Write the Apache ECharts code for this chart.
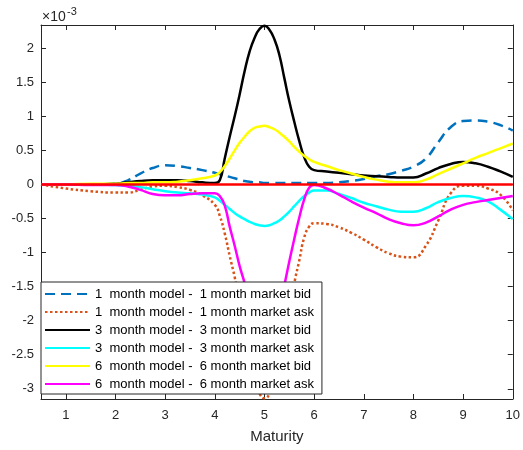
<!DOCTYPE html>
<html>
<head>
<meta charset="utf-8">
<script src="https://cdn.jsdelivr.net/npm/echarts@6/dist/echarts.min.js"></script>
<style>
  html, body { margin: 0; padding: 0; background: #fff; }
  #chart { width: 523px; height: 450px; }
</style>
</head>
<body>
<div id="chart"></div>
<script>
// Maturity grid (years)
const maturity = [0.5, 1, 1.5, 2, 2.25, 2.5, 2.75, 3, 3.25, 3.5, 3.75, 4,
  4.1, 4.2, 4.3, 4.4, 4.5, 4.6, 4.7, 4.8, 4.9, 5, 5.1, 5.2, 5.3, 5.4, 5.5,
  5.6, 5.7, 5.8, 5.9, 6, 6.25, 6.5, 6.75, 7, 7.25, 7.5, 7.75, 8, 8.25, 8.5,
  8.75, 9, 9.25, 9.5, 9.75, 10];

// Model minus market differences, in units of 1e-3
const bid1m = [0, 0, 0, 0.01, 0.06, 0.16, 0.24, 0.28, 0.27, 0.24, 0.21, 0.17,
  0.15, 0.13, 0.11, 0.09, 0.07, 0.05, 0.04, 0.03, 0.03, 0.02, 0.02, 0.02, 0.02, 0.02, 0.02,
  0.02, 0.02, 0.02, 0.02, 0.02, 0.02, 0.03, 0.05, 0.08, 0.12, 0.15, 0.20, 0.26, 0.38, 0.62,
  0.84, 0.93, 0.94, 0.92, 0.87, 0.79];
const ask1m = [0, -0.06, -0.10, -0.12, -0.12, -0.08, -0.03, -0.02, -0.04, -0.08, -0.16, -0.30,
  -0.46, -0.72, -1.05, -1.36, -1.72, -2.10, -2.50, -2.85, -3.07, -3.14, -3.08, -2.90, -2.60, -2.25, -1.85,
  -1.45, -1.12, -0.78, -0.62, -0.57, -0.58, -0.63, -0.71, -0.81, -0.92, -1.01, -1.06, -1.07, -0.90, -0.53,
  -0.13, -0.02, -0.02, -0.06, -0.15, -0.38];
const bid3m = [0, 0, 0, 0.01, 0.03, 0.05, 0.06, 0.06, 0.06, 0.05, 0.03, 0.02,
  0.06, 0.38, 0.70, 1.00, 1.32, 1.66, 1.95, 2.15, 2.28, 2.33, 2.27, 2.13, 1.90, 1.56, 1.22,
  0.92, 0.64, 0.40, 0.26, 0.21, 0.19, 0.17, 0.15, 0.13, 0.12, 0.11, 0.10, 0.10, 0.16, 0.24,
  0.30, 0.33, 0.31, 0.26, 0.19, 0.11];
const ask3m = [0, 0, 0, -0.01, -0.02, -0.04, -0.07, -0.10, -0.12, -0.13, -0.15, -0.19,
  -0.24, -0.30, -0.36, -0.42, -0.47, -0.51, -0.55, -0.58, -0.60, -0.61, -0.60, -0.57, -0.53, -0.47, -0.40,
  -0.32, -0.24, -0.17, -0.12, -0.09, -0.09, -0.14, -0.20, -0.27, -0.32, -0.37, -0.40, -0.40, -0.35, -0.26,
  -0.20, -0.17, -0.19, -0.25, -0.37, -0.51];
const bid6m = [0, 0, 0.01, 0.01, 0.02, 0.02, 0.03, 0.03, 0.04, 0.06, 0.09, 0.13,
  0.18, 0.27, 0.38, 0.50, 0.61, 0.70, 0.78, 0.83, 0.85, 0.86, 0.84, 0.81, 0.76, 0.70, 0.63,
  0.55, 0.48, 0.42, 0.37, 0.33, 0.27, 0.21, 0.16, 0.11, 0.07, 0.04, 0.03, 0.03, 0.07, 0.15,
  0.23, 0.31, 0.39, 0.46, 0.53, 0.60];
const ask6m = [0, 0, -0.01, -0.01, -0.03, -0.08, -0.14, -0.16, -0.16, -0.14, -0.13, -0.13,
  -0.17, -0.31, -0.62, -0.90, -1.20, -1.45, -1.75, -2.00, -2.15, -2.20, -2.15, -2.00, -1.78, -1.48, -1.13,
  -0.80, -0.49, -0.22, -0.05, -0.01, -0.06, -0.15, -0.25, -0.34, -0.42, -0.51, -0.57, -0.60, -0.56, -0.47,
  -0.37, -0.30, -0.26, -0.23, -0.20, -0.17];
const zeroLine = [[0.5, 0], [10, 0]];

const seriesNames = [
  '1  month model -  1 month market bid',
  '1  month model -  1 month market ask',
  '3  month model -  3 month market bid',
  '3  month model -  3 month market ask',
  '6  month model -  6 month market bid',
  '6  month model -  6 month market ask'
];

const xTicks = [1, 2, 3, 4, 5, 6, 7, 8, 9, 10];
const yTicks = [-3, -2.5, -2, -1.5, -1, -0.5, 0, 0.5, 1, 1.5, 2];
const xRange = [0.5, 10];
const yRange = [-3.15, 2.34];

const axisColor = '#262626';
const font = 'Liberation Sans, Arial, Helvetica, sans-serif';

function pairs(values) {
  return maturity.map((m, i) => [m, values[i]]);
}

function curve(name, values, color, type) {
  return {
    name: name,
    type: 'line',
    data: pairs(values),
    symbol: 'none',
    smooth: 0.5,
    clip: true,
    lineStyle: { color: color, width: 2.5, type: type || 'solid', cap: 'butt', join: 'round' },
    itemStyle: { color: color },
    emphasis: { disabled: true },
    animation: false
  };
}

const chart = echarts.init(document.getElementById('chart'), null, { renderer: 'canvas' });

chart.setOption({
  animation: false,
  backgroundColor: '#ffffff',
  grid: { left: 41, top: 25, right: 8, bottom: 51, containLabel: false },
  xAxis: [
    {
      type: 'value', min: xRange[0], max: xRange[1], position: 'bottom',
      name: 'Maturity', nameLocation: 'middle', nameGap: 30,
      nameTextStyle: { color: axisColor, fontSize: 15, fontFamily: font },
      axisLine: { show: true, onZero: false, lineStyle: { color: axisColor, width: 1 } },
      axisTick: { show: true, inside: true, length: 5, customValues: xTicks, lineStyle: { color: axisColor } },
      axisLabel: { show: true, customValues: xTicks, margin: 10, color: axisColor, fontSize: 13, fontFamily: font },
      splitLine: { show: false }
    },
    {
      type: 'value', min: xRange[0], max: xRange[1], position: 'top',
      axisLine: { show: true, onZero: false, lineStyle: { color: axisColor, width: 1 } },
      axisTick: { show: true, inside: true, length: 5, customValues: xTicks, lineStyle: { color: axisColor } },
      axisLabel: { show: false },
      splitLine: { show: false }
    }
  ],
  yAxis: [
    {
      type: 'value', min: yRange[0], max: yRange[1], position: 'left',
      axisLine: { show: true, onZero: false, lineStyle: { color: axisColor, width: 1 } },
      axisTick: { show: true, inside: true, length: 5, customValues: yTicks, lineStyle: { color: axisColor } },
      axisLabel: {
        show: true, customValues: yTicks, margin: 7, color: axisColor, fontSize: 13, fontFamily: font,
        formatter: v => String(Math.round(v * 10) / 10)
      },
      splitLine: { show: false }
    },
    {
      type: 'value', min: yRange[0], max: yRange[1], position: 'right',
      axisLine: { show: true, onZero: false, lineStyle: { color: axisColor, width: 1 } },
      axisTick: { show: true, inside: true, length: 5, customValues: yTicks, lineStyle: { color: axisColor } },
      axisLabel: { show: false },
      splitLine: { show: false }
    }
  ],
  legend: {
    data: seriesNames,
    orient: 'vertical',
    left: 41,
    top: 282,
    padding: [5, 8, 3, 3],
    itemWidth: 45,
    itemHeight: 14,
    itemGap: 4,
    backgroundColor: '#ffffff',
    borderColor: axisColor,
    borderWidth: 1,
    selectedMode: false,
    itemStyle: { opacity: 0 },
    textStyle: { color: '#000000', fontSize: 13, fontFamily: font, lineHeight: 14 },
    z: 10
  },
  graphic: [
    {
      type: 'text', left: 42, top: 10,
      style: { text: '\u00d710', fill: axisColor, font: '14px ' + font }
    },
    {
      type: 'text', left: 67, top: 6,
      style: { text: '-3', fill: axisColor, font: '11px ' + font }
    }
  ],
  series: [
    curve(seriesNames[0], bid1m, '#0072BD', [10, 6]),
    curve(seriesNames[1], ask1m, '#D95319', [2.5, 2.5]),
    curve(seriesNames[2], bid3m, '#000000'),
    curve(seriesNames[3], ask3m, '#00FFFF'),
    curve(seriesNames[4], bid6m, '#FFFF00'),
    curve(seriesNames[5], ask6m, '#FF00FF'),
    {
      name: 'zero', type: 'line', data: zeroLine, symbol: 'none',
      lineStyle: { color: '#FF0000', width: 2.5 }, emphasis: { disabled: true }, animation: false
    }
  ]
});
</script>
</body>
</html>
